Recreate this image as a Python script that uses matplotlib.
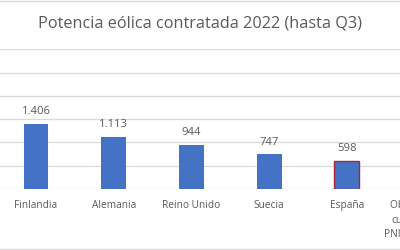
import matplotlib
matplotlib.use("Agg")
import matplotlib.pyplot as plt
from matplotlib.lines import Line2D

# potencia eólica contratada 2022 hasta Q3 (MW)
paises = ["Finlandia", "Alemania", "Reino Unido", "Suecia", "España",
          "Objetivo anual\ncumplimiento\nPNIEC 2021-2030"]
potencia = [1406, 1113, 944, 747, 598, 2200]
yticks = [0, 500, 1000, 1500, 2000, 2500, 3000]

BLUE = "#4472C4"
GRID = "#D9D9D9"
TXT = "#595959"

plt.rcParams["font.family"] = ["Open Sans", "DejaVu Sans"]

W, H = 400, 250
fig = plt.figure(figsize=(W / 100, H / 100), dpi=100)

# plot area runs past both image edges (the chart is cropped)
x0, step = 36, 77.7
left = (x0 - step / 2) / W
width = step * len(paises) / W
bottom = (H - 189) / H
height = (189 - 49.4) / H
ax = fig.add_axes([left, bottom, width, height])

xs = range(len(paises))
edges = [BLUE] * len(paises)
edges[4] = "#A0283C"
ax.bar(xs, potencia, width=0.32, color=BLUE, edgecolor=edges,
       linewidth=[0] * 4 + [1.0] + [0], zorder=3)

for x, v in zip(xs, potencia):
    ax.annotate(f"{v:,}".replace(",", "."), (x, v), xytext=(0, 7.0),
                textcoords="offset points", ha="center", va="baseline",
                fontsize=8.1, color=TXT)

ax.set_xlim(-0.5, len(paises) - 0.5)
ax.set_ylim(0, 3000)
ax.set_yticks(yticks)
ax.set_yticklabels([])
ax.grid(axis="y", color=GRID, linewidth=0.9, zorder=0)
ax.set_xticks(list(xs))
ax.set_xticklabels(paises, fontsize=7.3, color=TXT, linespacing=1.45)
ax.tick_params(axis="x", length=0, pad=8)
ax.tick_params(axis="y", length=0)
for s in ax.spines.values():
    s.set_visible(False)

fig.text(0.5, 1 - 23 / H, "Potencia eólica contratada 2022 (hasta Q3)",
         ha="center", va="center", fontsize=11.7, color=TXT)

# chart frame lines at top and bottom of the crop
for yy in (1 - 1 / H, 1 / H):
    fig.add_artist(Line2D([0, 1], [yy, yy], transform=fig.transFigure,
                          color=GRID, linewidth=1.0))

fig.savefig("out.png", dpi=100)
